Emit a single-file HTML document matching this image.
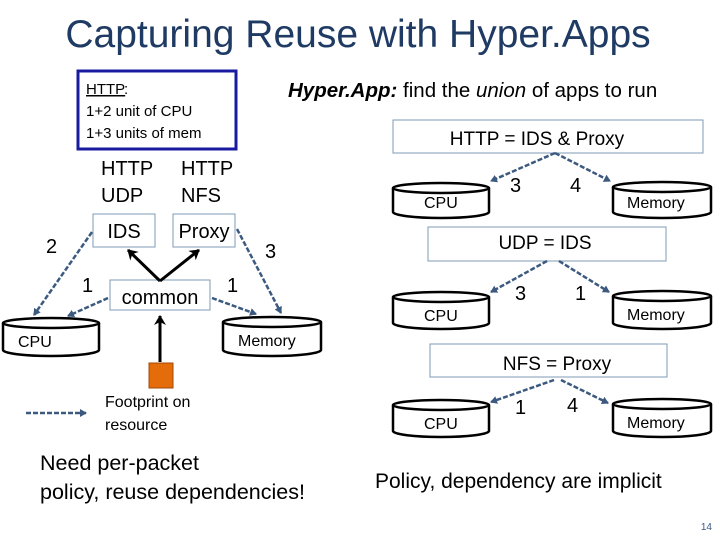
<html><head><style>body{margin:0;background:#fff}svg{display:block}text{font-family:"Liberation Sans",sans-serif}</style></head><body>
<svg width="720" height="540" viewBox="0 0 720 540">
<defs>
<marker id="b" markerWidth="8" markerHeight="8" refX="6" refY="4" orient="auto" markerUnits="userSpaceOnUse"><path d="M0,0 L7,4 L0,8 Z" fill="#3c5a80"/></marker>
<marker id="k" markerWidth="12" markerHeight="12" refX="9" refY="6" orient="auto" markerUnits="userSpaceOnUse"><path d="M0,0 L10,6 L0,12 L3,6 Z" fill="#000"/></marker>
</defs>
<text x="358" y="47" font-size="39" fill="#1f3b64" text-anchor="middle">Capturing Reuse with Hyper.Apps</text>
<rect x="78" y="71" width="158" height="78" fill="none" stroke="#1a1aa0" stroke-width="3"/>
<text x="86" y="94" font-size="15" text-decoration="underline">HTTP</text><text x="124" y="94" font-size="15">:</text>
<text x="86" y="116" font-size="15">1+2 unit of CPU</text>
<text x="86" y="138" font-size="15">1+3 units of mem</text>
<text x="288" y="97" font-size="20.5"><tspan font-weight="bold" font-style="italic">Hyper.App:</tspan> find the <tspan font-style="italic">union</tspan> of apps to run</text>
<g font-size="20"><text x="101" y="175">HTTP</text><text x="101" y="202">UDP</text><text x="181" y="175">HTTP</text><text x="181" y="202">NFS</text></g>
<rect x="93" y="214" width="62" height="33" fill="none" stroke="#7f9ab5"/><text x="124" y="238" font-size="20" text-anchor="middle">IDS</text>
<rect x="173" y="214" width="62" height="33" fill="none" stroke="#7f9ab5"/><text x="204" y="238" font-size="20" text-anchor="middle">Proxy</text>
<rect x="110" y="280" width="100" height="30" fill="none" stroke="#7f9ab5"/><text x="160" y="304" font-size="20" text-anchor="middle">common</text>
<g font-size="20"><text x="46" y="253">2</text><text x="82" y="292">1</text><text x="227" y="292">1</text><text x="265" y="258">3</text></g>
<g stroke="#3c5a80" stroke-width="2.5" stroke-dasharray="5,2" marker-end="url(#b)" fill="none">
<line x1="92" y1="232" x2="34" y2="315"/><line x1="108" y1="298" x2="68" y2="316"/>
<line x1="212" y1="298" x2="256" y2="314"/><line x1="237" y1="229" x2="281" y2="313"/></g>
<g stroke="#000" stroke-width="3" marker-end="url(#k)"><line x1="160" y1="281" x2="128" y2="250"/><line x1="160" y1="281" x2="199" y2="250"/><line x1="160" y1="362" x2="160" y2="316"/></g>
<rect x="149" y="363" width="24" height="25" fill="#e46c0a" stroke="#a04a08"/>
<line x1="26" y1="413" x2="86" y2="413" stroke="#3c5a80" stroke-width="2.5" stroke-dasharray="5,2" marker-end="url(#b)"/>
<text x="105" y="407" font-size="16">Footprint on</text><text x="105" y="430" font-size="16">resource</text>
<text x="40" y="470" font-size="21.5">Need per-packet</text><text x="40" y="499" font-size="21.5">policy, reuse dependencies!</text>
<g fill="#fff" stroke="#000" stroke-width="2.5">
<path d="M3,323 L3,350 A48,6 0 0 0 99,350 L99,323"/><ellipse cx="51" cy="323" rx="48" ry="5"/>
<path d="M223,322 L223,350 A49,6 0 0 0 321,350 L321,322"/><ellipse cx="272" cy="322" rx="49" ry="5"/>
<path d="M393,188 L393,212 A48,6 0 0 0 489,212 L489,188"/><ellipse cx="441" cy="188" rx="48" ry="5"/>
<path d="M613,187 L613,212 A49,6 0 0 0 711,212 L711,187"/><ellipse cx="662" cy="187" rx="49" ry="5"/>
<path d="M393,297 L393,323 A48,6 0 0 0 489,323 L489,297"/><ellipse cx="441" cy="297" rx="48" ry="5"/>
<path d="M613,296 L613,323 A49,6 0 0 0 711,323 L711,296"/><ellipse cx="662" cy="296" rx="49" ry="5"/>
<path d="M393,405 L393,431 A48,6 0 0 0 489,431 L489,405"/><ellipse cx="441" cy="405" rx="48" ry="5"/>
<path d="M613,404 L613,431 A49,6 0 0 0 711,431 L711,404"/><ellipse cx="662" cy="404" rx="49" ry="5"/>
</g>
<g font-size="16"><text x="18" y="347">CPU</text><text x="238" y="346">Memory</text>
<text x="424" y="208">CPU</text><text x="627" y="208">Memory</text>
<text x="424" y="321">CPU</text><text x="627" y="320">Memory</text>
<text x="424" y="429">CPU</text><text x="627" y="428">Memory</text></g>
<g fill="none" stroke="#7f9ab5"><rect x="393" y="120" width="310" height="33"/><rect x="428" y="227" width="238" height="34"/><rect x="430" y="344" width="237" height="33"/></g>
<g font-size="19" text-anchor="middle"><text x="537" y="145">HTTP = IDS &amp; Proxy</text><text x="545" y="249">UDP = IDS</text><text x="557" y="370">NFS = Proxy</text></g>
<g stroke="#3c5a80" stroke-width="2.5" stroke-dasharray="5,2" marker-end="url(#b)" fill="none">
<line x1="555" y1="153" x2="491" y2="181"/><line x1="555" y1="153" x2="610" y2="181"/>
<line x1="547" y1="261" x2="491" y2="292"/><line x1="559" y1="261" x2="609" y2="292"/>
<line x1="554" y1="380" x2="491" y2="402"/><line x1="561" y1="380" x2="608" y2="403"/></g>
<g font-size="20"><text x="510" y="192">3</text><text x="570" y="192">4</text><text x="515" y="300">3</text><text x="575" y="300">1</text><text x="515" y="414">1</text><text x="567" y="412">4</text></g>
<text x="375" y="488" font-size="21">Policy, dependency are implicit</text>
<text x="712" y="530" font-size="10" fill="#3c5a80" text-anchor="end">14</text>
</svg></body></html>
